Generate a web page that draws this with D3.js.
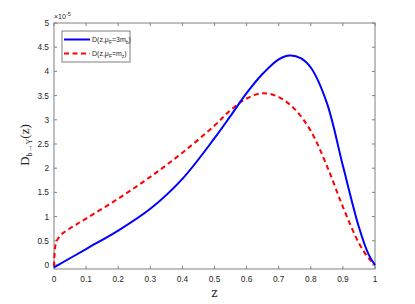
<!DOCTYPE html>
<html>
<head>
<meta charset="utf-8">
<script src="https://cdn.jsdelivr.net/npm/d3@7"></script>
<style>
  body { margin: 0; background: #fff; }
  svg { display: block; }
</style>
</head>
<body>
<div id="chart"></div>
<script>
// values in units of 1e-5
const zBlue = [0, 0.1, 0.2, 0.3, 0.4, 0.5, 0.55, 0.6, 0.65, 0.7, 0.735, 0.77, 0.8, 0.85, 0.9, 0.95, 0.98, 1.0];
const dBlue = [-0.05, 0.33, 0.71, 1.16, 1.78, 2.62, 3.08, 3.55, 3.95, 4.25, 4.33, 4.27, 4.08, 3.35, 2.05, 0.78, 0.22, 0.0];
const zRed = [0, 0.002, 0.006, 0.015, 0.03, 0.06, 0.1, 0.2, 0.3, 0.4, 0.5, 0.55, 0.6, 0.65, 0.7, 0.75, 0.8, 0.85, 0.9, 0.95, 0.98, 1.0];
const dRed = [-0.03, 0.25, 0.45, 0.57, 0.67, 0.8, 0.96, 1.37, 1.82, 2.32, 2.88, 3.2, 3.44, 3.55, 3.47, 3.22, 2.77, 2.05, 1.2, 0.45, 0.14, 0.0];
const xTicks = [0, 0.1, 0.2, 0.3, 0.4, 0.5, 0.6, 0.7, 0.8, 0.9, 1];
const yTicks = [0, 0.5, 1, 1.5, 2, 2.5, 3, 3.5, 4, 4.5, 5];

const W = 415, H = 304;
const mLeft = 54, mRight = 375, mTop = 23, mBottom = 269;
const axisCol = "#808080", textCol = "#262626";
const font = "Liberation Sans, Arial, sans-serif";

const svg = d3.select("#chart").append("svg").attr("width", W).attr("height", H);

const x = d3.scaleLinear().domain([0, 1]).range([mLeft, mRight]);
const y = d3.scaleLinear().domain([-0.083, 5]).range([mBottom, mTop]);

// box
svg.append("rect")
  .attr("x", mLeft).attr("y", mTop)
  .attr("width", mRight - mLeft).attr("height", mBottom - mTop)
  .attr("fill", "none").attr("stroke", axisCol).attr("stroke-width", 1);

// ticks (inward, on all four sides)
const tl = 3;
const g = svg.append("g").attr("stroke", axisCol).attr("stroke-width", 1);
xTicks.forEach(t => {
  g.append("line").attr("x1", x(t)).attr("x2", x(t)).attr("y1", mBottom).attr("y2", mBottom - tl);
  g.append("line").attr("x1", x(t)).attr("x2", x(t)).attr("y1", mTop).attr("y2", mTop + tl);
});
yTicks.forEach(t => {
  g.append("line").attr("x1", mLeft).attr("x2", mLeft + tl).attr("y1", y(t)).attr("y2", y(t));
  g.append("line").attr("x1", mRight).attr("x2", mRight - tl).attr("y1", y(t)).attr("y2", y(t));
});

svg.append("g").selectAll("text").data(xTicks).enter().append("text")
  .attr("x", d => x(d)).attr("y", mBottom + 13)
  .attr("text-anchor", "middle")
  .attr("font-family", font).attr("font-size", 8.3).attr("fill", textCol)
  .text(d => d);

svg.append("g").selectAll("text").data(yTicks).enter().append("text")
  .attr("x", mLeft - 5).attr("y", d => y(d) + 3)
  .attr("text-anchor", "end")
  .attr("font-family", font).attr("font-size", 8.3).attr("fill", textCol)
  .text(d => d);

// exponent
const ex = svg.append("text").attr("x", mLeft).attr("y", mTop - 4)
  .attr("font-family", font).attr("font-size", 7).attr("fill", textCol);
ex.append("tspan").text("\u00d710");
ex.append("tspan").attr("dy", -3).attr("font-size", 5.5).text("-5");

// curves
const line = d3.line().x(d => x(d[0])).y(d => y(d[1])).curve(d3.curveCatmullRom.alpha(0.5));

svg.append("path")
  .datum(d3.zip(zRed, dRed))
  .attr("d", line)
  .attr("fill", "none").attr("stroke", "#ff0000").attr("stroke-width", 2)
  .attr("stroke-dasharray", "5,3.5");

svg.append("path")
  .datum(d3.zip(zBlue, dBlue))
  .attr("d", line)
  .attr("fill", "none").attr("stroke", "#0000ff").attr("stroke-width", 2);

// legend
const lg = svg.append("g");
lg.append("rect").attr("x", 62).attr("y", 31).attr("width", 68).attr("height", 31)
  .attr("fill", "#fff").attr("stroke", axisCol).attr("stroke-width", 1);

const entries = [
  {col: "#0000ff", dash: null, sub: "3m", s2: "b"},
  {col: "#ff0000", dash: "5,3.5", sub: "m", s2: "z"}
];
entries.forEach((e, i) => {
  const yy = 39.5 + i * 14;
  lg.append("line").attr("x1", 64).attr("x2", 90).attr("y1", yy).attr("y2", yy)
    .attr("stroke", e.col).attr("stroke-width", 2)
    .attr("stroke-dasharray", e.dash);
  const t = lg.append("text").attr("x", 92).attr("y", yy + 2.5)
    .attr("font-family", font).attr("font-size", 7).attr("fill", textCol);
  t.append("tspan").text("D(z,\u03bc");
  t.append("tspan").attr("dy", 2).attr("font-size", 5).text("F");
  t.append("tspan").attr("dy", -2).text("=" + e.sub);
  t.append("tspan").attr("dy", 2).attr("font-size", 5).text(e.s2);
  t.append("tspan").attr("dy", -2).text(")");
});

// axis labels
svg.append("text").attr("x", (mLeft + mRight) / 2).attr("y", 297)
  .attr("text-anchor", "middle")
  .attr("font-family", "DejaVu Serif, Liberation Serif, serif").attr("font-size", 12).attr("fill", textCol)
  .text("z");

const yl = svg.append("text")
  .attr("transform", "translate(29, 145) rotate(-90)")
  .attr("text-anchor", "middle")
  .attr("font-family", "Liberation Serif, DejaVu Serif, serif").attr("font-size", 13).attr("fill", textCol);
yl.append("tspan").text("D");
yl.append("tspan").attr("dy", 3).attr("font-size", 8).text("b\u2192\u03a5");
yl.append("tspan").attr("dy", -3).text("(z)");
</script>
</body>
</html>
